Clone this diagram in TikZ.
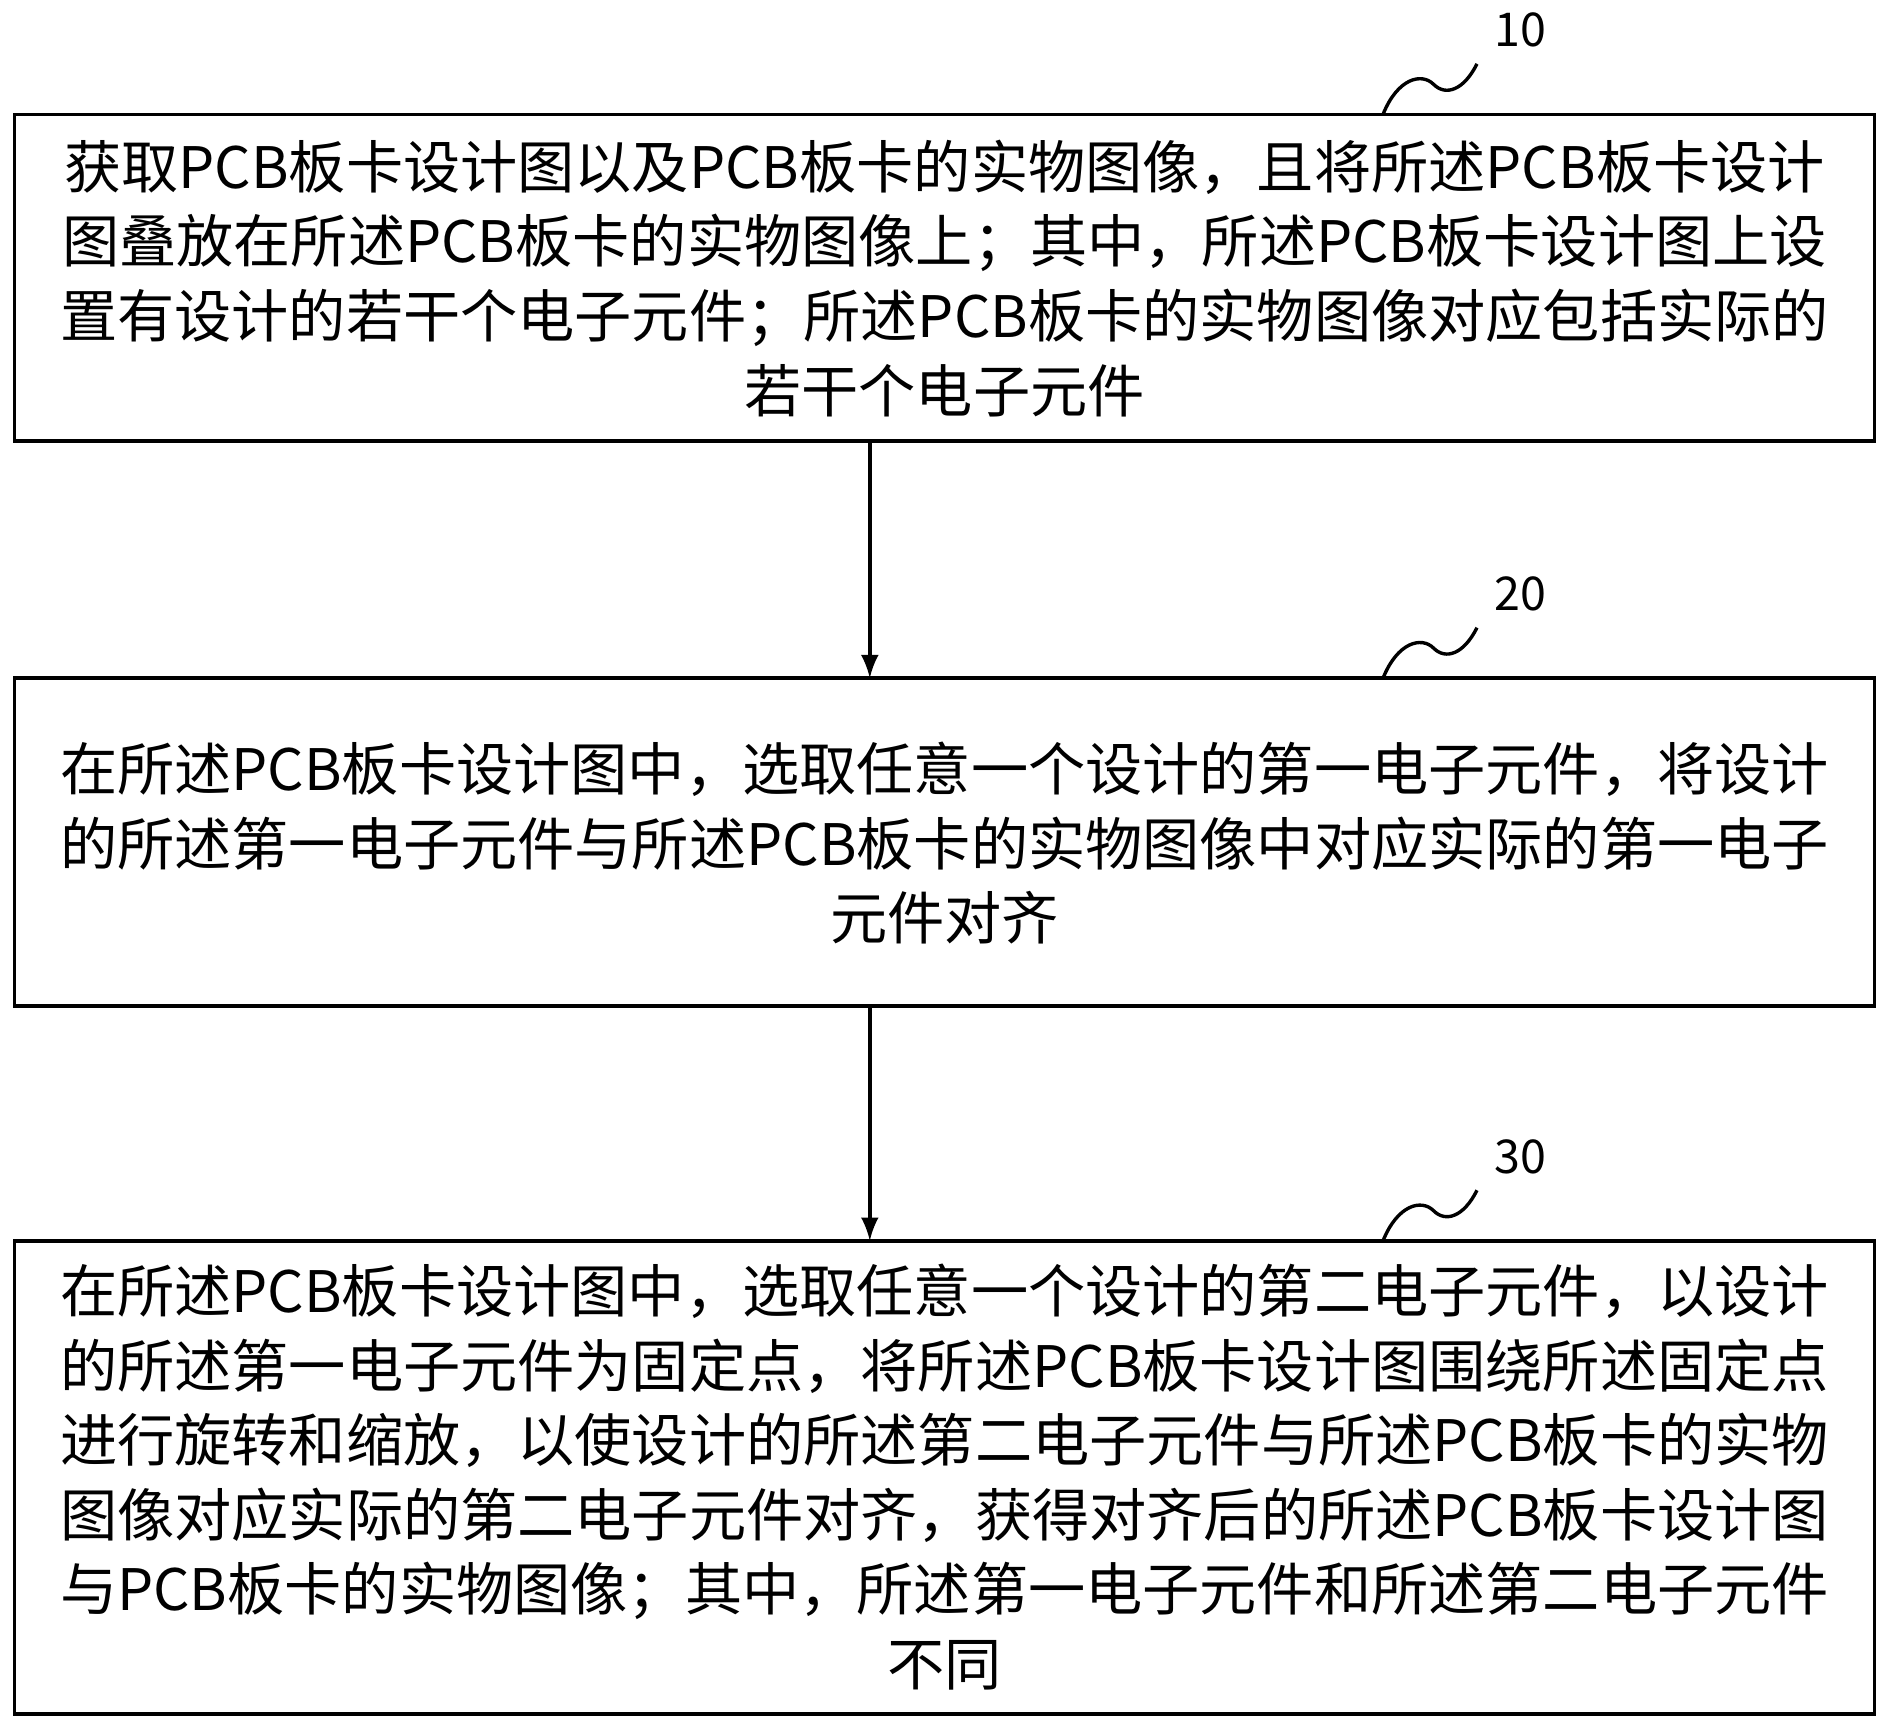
\documentclass[tikz,border=0pt]{standalone}
\usepackage{fontspec}
\setmainfont{Noto Sans CJK SC}
\begin{document}
\begin{tikzpicture}[x=0.01cm,y=-0.01cm,
  txt/.style={align=center,inner sep=0pt,font=\fontsize{13.5}{17.6}\selectfont},
  lab/.style={font=\fontsize{11}{13}\selectfont},
  arr/.style={-latex,line width=0.9pt},
  wave/.style={line width=0.8pt}]
\useasboundingbox (0,0) rectangle (1568,1436);
\draw[line width=0.9pt] (12,95) rectangle (1556,366);
\draw[line width=0.9pt] (12,563) rectangle (1556,835);
\draw[line width=0.9pt] (12,1030) rectangle (1556,1423);
\coordinate (b1b) at (722,366);
\coordinate (b2t) at (722,563); \coordinate (b2b) at (722,835);
\coordinate (b3t) at (722,1030);
\node[txt] (t1) at (784,231) {获取PCB板卡设计图以及PCB板卡的实物图像，且将所述PCB板卡设计\\图叠放在所述PCB板卡的实物图像上；其中，所述PCB板卡设计图上设\\置有设计的若干个电子元件；所述PCB板卡的实物图像对应包括实际的\\若干个电子元件};
\node[txt] (t2) at (784,700) {在所述PCB板卡设计图中，选取任意一个设计的第一电子元件，将设计\\的所述第一电子元件与所述PCB板卡的实物图像中对应实际的第一电子\\元件对齐};
\node[txt] (t3) at (784,1226) {在所述PCB板卡设计图中，选取任意一个设计的第二电子元件，以设计\\的所述第一电子元件为固定点，将所述PCB板卡设计图围绕所述固定点\\进行旋转和缩放，以使设计的所述第二电子元件与所述PCB板卡的实物\\图像对应实际的第二电子元件对齐，获得对齐后的所述PCB板卡设计图\\与PCB板卡的实物图像；其中，所述第一电子元件和所述第二电子元件\\不同};
\draw[arr] (b1b) -- (b2t);
\draw[arr] (b2b) -- (b3t);
\foreach \n/\y in {10/95,20/563,30/1030}{
  \node[lab] (l\n) at (1262,\y-70) {\n};
  \draw[wave] (1148,\y) .. controls (1160,\y-30) and (1180,\y-35) .. (1190,\y-25) .. controls (1200,\y-15) and (1215,\y-20) .. (1226,\y-42);
}
\end{tikzpicture}
\end{document}
